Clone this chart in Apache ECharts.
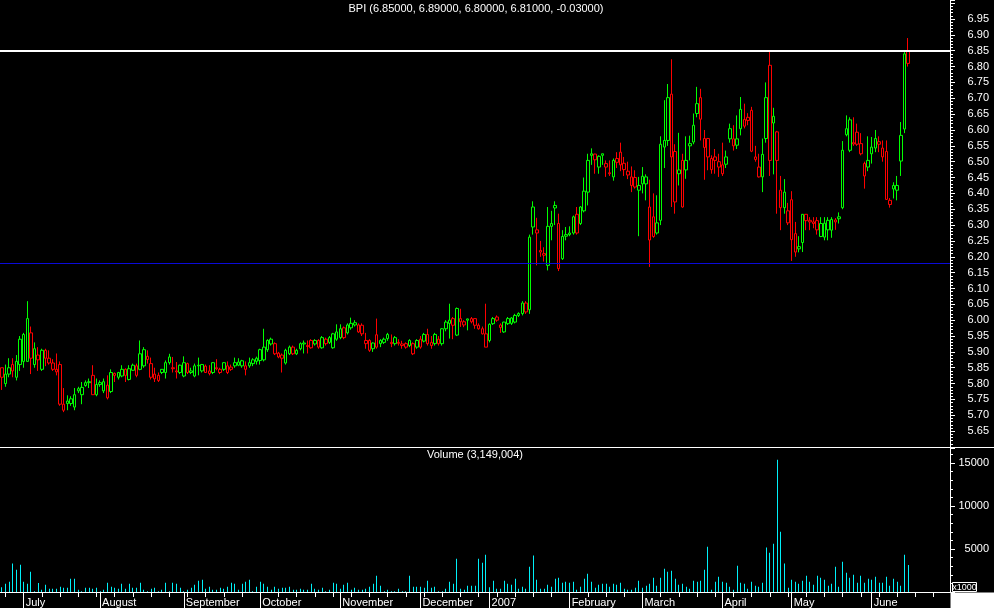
<!DOCTYPE html>
<html><head><meta charset="utf-8">
<script src="https://cdn.jsdelivr.net/npm/echarts/dist/echarts.min.js"></script>
<style>html,body{margin:0;padding:0;background:#000;}#c{width:994px;height:608px;}</style>
</head><body><div id="c"></div>
<script>
// ---- data (price per candle, volume in thousands) ----
const openP = [
5.85,5.80,5.83,5.86,5.82,5.86,5.87,5.87,5.96,5.86, 5.89,5.845,5.905,5.88,5.865,5.845,5.86,5.735,5.737,5.737,
5.726,5.777,5.765,5.794,5.803,5.826,5.765,5.797,5.777,5.795, 5.775,5.832,5.82,5.824,5.845,5.813,5.842,5.856,5.845,5.856,
5.886,5.863,5.83,5.826,5.835,5.835,5.866,5.85,5.84,5.835, 5.824,5.863,5.835,5.824,5.856,5.84,5.855,5.84,5.835,5.85,
5.845,5.845,5.835,5.845,5.856,5.858,5.856,5.845,5.856,5.863, 5.87,5.873,5.875,5.907,5.925,5.926,5.896,5.89,5.865,5.894,
5.915,5.894,5.91,5.925,5.92,5.936,5.925,5.936,5.913,5.94, 5.93,5.913,5.94,5.945,5.976,5.96,5.976,5.985,5.985,5.984,
5.936,5.936,5.91,5.954,5.926,5.93,5.942,5.93,5.926,5.93, 5.925,5.926,5.92,5.926,5.915,5.94,5.934,5.955,5.93,5.926,
5.94,5.926,5.973,5.99,6.005,5.953,6.005,5.995,6.0,6.005, 6.005,5.984,5.973,5.957,5.936,5.989,6.01,5.985,5.963,5.989,
5.99,5.994,6.015,6.021,6.054,6.033,6.294,6.285,6.22,6.21, 6.173,6.296,6.354,6.305,6.194,6.265,6.27,6.275,6.334,6.305,
6.345,6.404,6.52,6.524,6.483,6.52,6.483,6.465,6.452,6.51, 6.53,6.495,6.47,6.425,6.45,6.41,6.454,6.43,6.253,6.326,
6.275,6.315,6.546,6.567,6.713,6.532,6.462,6.504,6.474,6.55, 6.562,6.652,6.702,6.545,6.573,6.475,6.515,6.483,6.462,6.492,
6.572,6.572,6.552,6.604,6.612,6.64,6.662,6.515,6.483,6.452, 6.573,6.804,6.622,6.594,6.41,6.355,6.345,6.38,6.273,6.225,
6.245,6.334,6.315,6.31,6.314,6.264,6.262,6.285,6.284,6.316, 6.32,6.355,6.585,6.536,6.56,6.593,6.557,6.494,6.483,6.546,
6.543,6.555,6.543,6.532,6.365,6.425,6.41,6.502,6.603,6.85
];
const highP = [
5.85,5.86,5.88,5.88,5.89,5.95,5.96,6.06,5.98,5.93, 5.915,5.91,5.91,5.905,5.877,5.895,5.87,5.786,5.763,5.76,
5.786,5.79,5.805,5.81,5.816,5.858,5.816,5.81,5.816,5.826, 5.845,5.835,5.837,5.858,5.848,5.858,5.863,5.863,5.936,5.915,
5.905,5.882,5.85,5.835,5.846,5.873,5.894,5.884,5.868,5.86, 5.886,5.866,5.85,5.863,5.882,5.862,5.86,5.858,5.868,5.877,
5.85,5.868,5.87,5.86,5.882,5.88,5.875,5.87,5.882,5.88, 5.885,5.91,5.973,5.94,5.945,5.93,5.90,5.895,5.91,5.92,
5.92,5.91,5.93,5.936,5.936,5.94,5.94,5.94,5.95,5.945, 5.95,5.96,5.987,5.987,5.98,5.99,6.008,6.0,5.99,5.99,
5.96,5.94,5.93,6.005,5.94,5.945,5.96,5.955,5.95,5.94, 5.935,5.93,5.94,5.93,5.94,5.95,5.96,5.973,5.95,5.96,
5.95,5.975,6.0,6.052,6.01,6.04,6.036,6.0,6.005,6.01, 6.006,5.99,5.98,6.052,5.99,6.01,6.015,5.99,5.995,6.01,
6.01,6.02,6.025,6.06,6.06,6.27,6.375,6.323,6.25,6.23, 6.357,6.345,6.375,6.336,6.284,6.294,6.296,6.33,6.357,6.36,
6.45,6.525,6.542,6.525,6.52,6.525,6.504,6.504,6.51,6.53, 6.56,6.515,6.50,6.485,6.473,6.452,6.483,6.46,6.443,6.40,
6.394,6.58,6.694,6.745,6.823,6.555,6.591,6.525,6.58,6.582, 6.652,6.736,6.73,6.60,6.575,6.52,6.54,6.525,6.56,6.535,
6.62,6.615,6.646,6.704,6.683,6.653,6.673,6.55,6.525,6.573, 6.75,6.85,6.67,6.597,6.455,6.445,6.37,6.407,6.31,6.265,
6.335,6.335,6.325,6.325,6.325,6.325,6.325,6.325,6.325,6.322, 6.34,6.565,6.646,6.64,6.64,6.62,6.59,6.50,6.58,6.578,
6.60,6.58,6.567,6.567,6.385,6.435,6.455,6.625,6.85,6.89
];
const lowP = [
5.78,5.79,5.82,5.82,5.81,5.84,5.85,5.87,5.83,5.85, 5.84,5.84,5.855,5.86,5.84,5.826,5.73,5.71,5.716,5.73,
5.716,5.77,5.735,5.79,5.786,5.765,5.76,5.79,5.77,5.75, 5.77,5.805,5.813,5.82,5.805,5.81,5.84,5.82,5.842,5.85,
5.863,5.813,5.805,5.805,5.83,5.816,5.86,5.835,5.816,5.83, 5.82,5.83,5.83,5.82,5.826,5.835,5.835,5.826,5.83,5.842,
5.83,5.84,5.83,5.84,5.85,5.855,5.85,5.826,5.85,5.855, 5.86,5.86,5.87,5.90,5.92,5.89,5.88,5.835,5.86,5.89,
5.89,5.89,5.905,5.895,5.895,5.91,5.92,5.91,5.91,5.92, 5.925,5.91,5.935,5.94,5.94,5.955,5.97,5.98,5.96,5.95,
5.91,5.90,5.90,5.91,5.915,5.925,5.935,5.915,5.92,5.92, 5.91,5.91,5.915,5.89,5.91,5.91,5.93,5.92,5.91,5.92,
5.92,5.92,5.965,5.942,5.94,5.95,5.979,5.978,5.968,5.99, 5.973,5.97,5.955,5.915,5.93,5.985,5.995,5.96,5.96,5.985,
5.985,5.99,6.01,6.015,6.02,6.02,6.27,6.173,6.20,6.185, 6.157,6.252,6.30,6.155,6.19,6.252,6.265,6.27,6.27,6.30,
6.34,6.362,6.49,6.462,6.462,6.49,6.452,6.455,6.44,6.48, 6.47,6.455,6.445,6.404,6.415,6.265,6.40,6.378,6.168,6.26,
6.27,6.30,6.48,6.55,6.357,6.336,6.425,6.355,6.446,6.504, 6.555,6.64,6.567,6.443,6.473,6.462,6.462,6.452,6.455,6.48,
6.56,6.535,6.54,6.583,6.605,6.615,6.53,6.50,6.45,6.404, 6.56,6.455,6.46,6.336,6.284,6.336,6.30,6.187,6.20,6.214,
6.215,6.284,6.284,6.29,6.27,6.262,6.252,6.252,6.26,6.285, 6.305,6.35,6.58,6.53,6.55,6.55,6.52,6.415,6.47,6.494,
6.53,6.53,6.50,6.38,6.355,6.384,6.378,6.455,6.59,6.80
];
const closeP = [
5.82,5.83,5.85,5.84,5.87,5.94,5.955,6.005,5.88,5.91, 5.875,5.905,5.88,5.865,5.845,5.837,5.735,5.716,5.745,5.752,
5.765,5.784,5.788,5.803,5.806,5.765,5.797,5.803,5.806,5.755, 5.835,5.826,5.835,5.845,5.826,5.847,5.858,5.826,5.894,5.907,
5.876,5.82,5.815,5.81,5.845,5.866,5.884,5.847,5.837,5.858, 5.866,5.835,5.84,5.856,5.858,5.86,5.835,5.832,5.866,5.847,
5.835,5.866,5.856,5.852,5.866,5.868,5.872,5.856,5.866,5.875, 5.88,5.907,5.915,5.936,5.94,5.894,5.884,5.88,5.905,5.915,
5.894,5.905,5.926,5.928,5.917,5.913,5.936,5.915,5.945,5.926, 5.945,5.957,5.963,5.973,5.945,5.985,5.99,5.992,5.963,5.957,
5.926,5.905,5.928,5.915,5.936,5.94,5.955,5.926,5.945,5.927, 5.92,5.915,5.936,5.894,5.936,5.915,5.955,5.926,5.92,5.955,
5.926,5.973,5.994,6.0,5.984,6.037,5.995,5.985,6.004,5.995, 5.984,5.973,5.957,5.915,5.987,6.005,6.0,5.977,5.994,6.005,
6.007,6.015,6.021,6.054,6.026,6.262,6.357,6.275,6.215,6.205, 6.296,6.305,6.362,6.163,6.264,6.27,6.275,6.326,6.275,6.357,
6.407,6.504,6.525,6.506,6.517,6.525,6.494,6.462,6.504,6.498, 6.49,6.475,6.458,6.452,6.42,6.425,6.43,6.452,6.357,6.264,
6.307,6.555,6.567,6.702,6.515,6.373,6.474,6.357,6.504,6.557, 6.615,6.683,6.634,6.573,6.515,6.51,6.504,6.50,6.49,6.515,
6.604,6.55,6.572,6.665,6.633,6.63,6.533,6.507,6.452,6.523, 6.702,6.504,6.643,6.504,6.355,6.404,6.307,6.254,6.215,6.232,
6.334,6.314,6.31,6.305,6.285,6.305,6.306,6.315,6.318,6.31, 6.326,6.536,6.604,6.632,6.556,6.555,6.525,6.455,6.504,6.525,
6.573,6.563,6.515,6.381,6.378,6.414,6.425,6.583,6.84,6.81
];
const volumeK = [
540,970,1200,3300,2600,3180,1200,970,2360,100, 1050,270,850,390,390,390,620,500,500,1550,
1550,270,100,500,500,390,500,100,270,1090, 620,500,390,970,390,970,500,500,1090,270,
100,390,500,100,270,1090,100,1090,970,500, 100,270,500,850,1320,1430,390,620,270,270,
500,390,620,1090,970,270,970,1200,1430,100, 620,1200,970,620,270,620,390,500,500,620,
270,270,390,270,270,970,390,270,500,100, 270,1090,970,390,850,1090,270,500,270,270,
390,620,970,1900,740,100,270,100,100,390, 100,100,1900,620,620,620,500,1320,500,620,
100,100,390,1200,970,3880,390,270,740,740, 740,3880,3410,4340,540,1320,390,390,1320,970,
850,1550,390,620,390,2950,4230,1430,390,390, 850,620,1550,1670,1090,1200,1090,1200,270,620,
1550,2130,1200,500,850,970,970,620,970,850, 1090,390,270,270,500,1320,500,740,970,1670,
740,1670,2710,2360,2480,1550,850,970,620,390, 1320,1200,1320,2600,5270,270,1200,1780,1200,1090,
620,270,3060,1090,970,390,1200,740,620,1090, 5160,4570,5620,15390,7020,3300,500,1430,1200,970,
1320,1900,1200,850,1900,1670,1430,740,970,2950, 620,3530,2250,1670,2020,1090,1900,1090,1550,1430,
1780,1090,1090,1780,740,1550,1200,740,4340,3149
];
const monthLabels = ['July','August','September','October','November','December','2007','February','March','April','May','June'];
const monthStart = [6,27,50,71,93,115,134,156,176,198,217,239];
const SLOTS = 261; // trading-day slots on the time axis (data + empty right margin)
const dayIndex = Array.from({length: SLOTS}, (_, i) => String(i));
const titleText = 'BPI (6.85000, 6.89000, 6.80000, 6.81000, -0.03000)';
const volumeTitle = 'Volume (3,149,004)';
const resistance = 6.85, support = 6.18;

// ---- build ----
const UP = '#00ff00', DN = '#ff0000', VOL = '#00f0f8';
const candles = closeP.map((c, i) => {
  const prev = i ? closeP[i - 1] : openP[0];
  const col = c >= prev ? UP : DN;
  return { value: [openP[i], c, lowP[i], highP[i]],
    itemStyle: { color: '#000000', color0: col, borderColor: col, borderColor0: col, borderWidth: 1 } };
});
const volData = volumeK.map((v, i) => [i, v]);
const FONT = '"Liberation Sans", Arial, sans-serif';
const isMonth = i => monthStart.indexOf(i) >= 0;
const isWeek = i => (i % 5 === 1) && !isMonth(i);

const chart = echarts.init(document.getElementById('c'), null, { renderer: 'canvas' });
chart.setOption({
  backgroundColor: '#000000',
  animation: false,
  grid: [
    { left: 0, right: 44, top: 0, height: 447 },
    { left: 0, right: 44, top: 448, height: 144 }
  ],
  xAxis: [
    { type: 'category', gridIndex: 0, data: dayIndex, boundaryGap: true,
      axisLine: { show: false }, axisTick: { show: false }, axisLabel: { show: false }, splitLine: { show: false } },
    { type: 'category', gridIndex: 1, data: dayIndex, boundaryGap: true, position: 'bottom',
      axisLine: { show: true, lineStyle: { color: '#ffffff', width: 1 } },
      axisTick: { show: true, alignWithLabel: true, interval: (i) => isWeek(i), length: 5, lineStyle: { color: '#ffffff' } },
      axisLabel: { show: false }, splitLine: { show: false } },
    { type: 'category', gridIndex: 1, data: dayIndex, boundaryGap: true, position: 'bottom',
      axisLine: { show: false },
      axisTick: { show: true, alignWithLabel: true, interval: (i) => isMonth(i), length: 17, lineStyle: { color: '#ffffff' } },
      axisLabel: { show: true, interval: (i) => isMonth(i), align: 'left', margin: 5, padding: [0, 0, 0, 2],
        color: '#ffffff', fontSize: 11, fontFamily: FONT,
        formatter: (v) => { const m = monthStart.indexOf(Number(v)); return m >= 0 ? monthLabels[m] : ''; } },
      splitLine: { show: false } }
  ],
  yAxis: [
    { type: 'value', gridIndex: 0, position: 'right', min: 5.6, max: 7.01, interval: 0.05, scale: true,
      axisLine: { show: true, lineStyle: { color: '#ffffff' } },
      axisTick: { show: true, length: 5, lineStyle: { color: '#ffffff' } },
      minorTick: { show: true, splitNumber: 5, length: 3, lineStyle: { color: '#ffffff' } },
      splitLine: { show: false }, minorSplitLine: { show: false },
      axisLabel: { color: '#ffffff', fontSize: 11, fontFamily: FONT, align: 'right', margin: 39,
        showMinLabel: false, showMaxLabel: false,
        formatter: v => (v < 5.64 || v > 6.96) ? '' : v.toFixed(2) } },
    { type: 'value', gridIndex: 1, position: 'right', min: 0, max: 16744, interval: 5000,
      axisLine: { show: true, lineStyle: { color: '#ffffff' } },
      axisTick: { show: true, length: 5, lineStyle: { color: '#ffffff' } },
      minorTick: { show: true, splitNumber: 5, length: 3, lineStyle: { color: '#ffffff' } },
      splitLine: { show: false }, minorSplitLine: { show: false },
      axisLabel: { color: '#ffffff', fontSize: 11, fontFamily: FONT, align: 'right', margin: 39,
        showMaxLabel: false,
        formatter: v => (v > 0 && v % 5000 === 0) ? String(v) : '' } }
  ],
  series: [
    { type: 'candlestick', xAxisIndex: 0, yAxisIndex: 0, data: candles, barWidth: 3,
      markLine: { silent: true, symbol: ['none', 'none'], label: { show: false }, animation: false,
        data: [
          { yAxis: resistance, lineStyle: { color: '#ffffff', width: 2, type: 'solid' } },
          { yAxis: support, lineStyle: { color: '#0a0ad8', width: 1, type: 'solid' } }
        ] } },
    { type: 'custom', xAxisIndex: 1, yAxisIndex: 1, data: volData, silent: true,
      renderItem: (params, api) => {
        const top = api.coord([api.value(0), api.value(1)]);
        const base = api.coord([api.value(0), 0]);
        return { type: 'rect', shape: { x: Math.floor(top[0]), y: top[1], width: 1, height: base[1] - top[1] },
          style: { fill: VOL } };
      } }
  ],
  graphic: [
    { type: 'text', x: 476, y: 9, style: { text: titleText, fill: '#ffffff', font: '11px ' + FONT, align: 'center', verticalAlign: 'middle' } },
    { type: 'text', x: 475, y: 455, style: { text: volumeTitle, fill: '#ffffff', font: '11px ' + FONT, align: 'center', verticalAlign: 'middle' } },
    { type: 'line', shape: { x1: 0, y1: 447.5, x2: 994, y2: 447.5 }, style: { stroke: '#ffffff', lineWidth: 1 } },
    { type: 'rect', shape: { x: 950.5, y: 592.5, width: 44, height: 16 }, style: { fill: '#ffffff' } },
    { type: 'rect', shape: { x: 952.5, y: 582.5, width: 24, height: 9 }, style: { fill: '#000000', stroke: '#ffffff', lineWidth: 1 } },
    { type: 'text', x: 964.5, y: 587.5, style: { text: 'x1000', fill: '#ffffff', font: '9px ' + FONT, align: 'center', verticalAlign: 'middle' } }
  ]
});
</script></body></html>
